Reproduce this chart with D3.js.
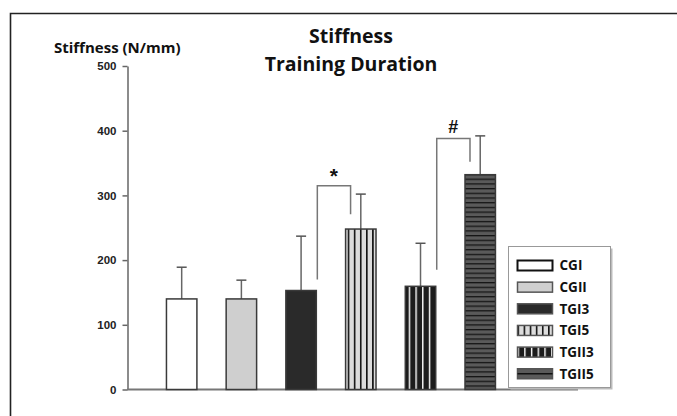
<!DOCTYPE html>
<html>
<head>
<meta charset="utf-8">
<title>Stiffness - Training Duration</title>
<script src="https://d3js.org/d3.v7.min.js"></script>
<style type="text/css">
body { margin: 0; background: #fff; }
svg text { font-family: "Open Sans", sans-serif; fill: #111; }
.tick text { font-family: "Liberation Sans", Arial, sans-serif; font-weight: bold; font-size: 11.5px; fill: #222; }
</style>
</head>
<body>
<script type="text/javascript">
// data
var groups = ["CGI", "CGII", "TGI3", "TGI5", "TGII3", "TGII5"];
var means = [140, 140, 153, 248, 159.5, 332];
var errTop = [189, 169, 237, 302, 226, 392];
var yTicks = [0, 100, 200, 300, 400, 500];
// significance brackets: [left group, right group, left foot, top, right foot, mark]
var sigPairs = [["TGI3", "TGI5", 170, 315, 271, "*"], ["TGII3", "TGII5", 185, 388, 352, "#"]];

var width = 677, height = 416;
var svg = d3.select("body").append("svg")
	.attr("width", width)
	.attr("height", height);

var y = d3.scaleLinear().domain([0, 500]).range([389.5, 66]);
var x = d3.scaleBand().domain(groups).range([136.6, 525.3])
	.paddingInner(0.49).paddingOuter(0.5);

// patterns
var defs = svg.append("defs");
function stripes(id, bg, fg, dir, gap, lw) {
	var p = defs.append("pattern").attr("id", id)
		.attr("patternUnits", "userSpaceOnUse")
		.attr("width", dir == "v" ? gap : 8)
		.attr("height", dir == "v" ? 8 : gap);
	p.append("rect").attr("width", dir == "v" ? gap : 8).attr("height", dir == "v" ? 8 : gap).attr("fill", bg);
	if (dir == "v")
		p.append("rect").attr("x", 0).attr("width", lw).attr("height", 8).attr("fill", fg);
	else
		p.append("rect").attr("y", 0).attr("width", 8).attr("height", lw).attr("fill", fg);
}
stripes("pTGI5", "#dcdcdc", "#111", "v", 6.1, 1.6);
stripes("pTGII3", "#1c1c1c", "#fff", "v", 6.7, 1.4);
stripes("pTGII5", "#5a5a5a", "#151515", "h", 4.7, 1.3);

var fills = {
	CGI: "#fff", CGII: "#cfcfcf", TGI3: "#2a2a2a",
	TGI5: "url(#pTGI5)", TGII3: "url(#pTGII3)", TGII5: "url(#pTGII5)"
};

// frame (top and left only, figure is cropped)
svg.append("path").attr("d", "M10.5,416V13.5H677")
	.attr("fill", "none").attr("stroke", "#222").attr("stroke-width", 1.6);

// titles
svg.append("text").attr("x", 351).attr("y", 43).attr("text-anchor", "middle")
	.style("font-size", "19.5px").style("font-weight", "bold").text("Stiffness");
svg.append("text").attr("x", 351).attr("y", 71).attr("text-anchor", "middle")
	.style("font-size", "19.5px").style("font-weight", "bold").text("Training Duration");
svg.append("text").attr("x", 54).attr("y", 53)
	.style("font-size", "15px").style("font-weight", "bold").text("Stiffness (N/mm)");

// y axis
var yAxis = svg.append("g").attr("transform", "translate(127.5,0)")
	.call(d3.axisLeft(y).tickValues(yTicks).tickSize(5).tickPadding(6).tickSizeOuter(0));
yAxis.selectAll("line, path").attr("stroke", "#666").attr("stroke-width", 1.5);

// baseline
svg.append("line").attr("x1", 127).attr("x2", 578).attr("y1", y(0)).attr("y2", y(0))
	.attr("stroke", "#777").attr("stroke-width", 2);

// error bars
var eb = svg.append("g");
eb.selectAll("line.v").data(groups).join("line").attr("class", "v")
	.attr("x1", function(d) { return x(d) + x.bandwidth() / 2; })
	.attr("x2", function(d) { return x(d) + x.bandwidth() / 2; })
	.attr("y1", function(d, i) { return y(means[i]); })
	.attr("y2", function(d, i) { return y(errTop[i]); })
	.attr("stroke", "#666").attr("stroke-width", 1.5);
eb.selectAll("line.c").data(groups).join("line").attr("class", "c")
	.attr("x1", function(d) { return x(d) + x.bandwidth() / 2 - 5; })
	.attr("x2", function(d) { return x(d) + x.bandwidth() / 2 + 5; })
	.attr("y1", function(d, i) { return y(errTop[i]); })
	.attr("y2", function(d, i) { return y(errTop[i]); })
	.attr("stroke", "#555").attr("stroke-width", 1.5);

// bars
svg.append("g").selectAll("rect").data(groups).join("rect")
	.attr("x", function(d) { return x(d); })
	.attr("y", function(d, i) { return y(means[i]); })
	.attr("width", x.bandwidth())
	.attr("height", function(d, i) { return y(0) - y(means[i]); })
	.attr("fill", function(d) { return fills[d]; })
	.attr("stroke", "#3a3a3a").attr("stroke-width", 1.5);

// significance brackets
var sg = svg.append("g");
sigPairs.forEach(function(s) {
	var xl = x(s[0]) + x.bandwidth() + 1, xr = x(s[1]) + 5;
	sg.append("path")
		.attr("d", "M" + xl + "," + y(s[2]) + "V" + y(s[3]) + "H" + xr + "V" + y(s[4]))
		.attr("fill", "none").attr("stroke", "#777").attr("stroke-width", 1.5);
	sg.append("text").attr("x", (xl + xr) / 2).attr("y", y(s[3]) - (s[5] == "*" ? 3 : 5))
		.attr("text-anchor", "middle")
		.style("font-family", "Liberation Sans, Arial, sans-serif")
		.style("font-size", s[5] == "*" ? "21px" : "18px").style("font-weight", "bold")
		.text(s[5]);
});

// legend
var lg = svg.append("g").attr("transform", "translate(508.5,246.5)");
lg.append("rect").attr("x", 2).attr("y", 2).attr("width", 102).attr("height", 141).attr("fill", "#bbb");
lg.append("rect").attr("width", 102).attr("height", 141)
	.attr("fill", "#fff").attr("stroke", "#999").attr("stroke-width", 1);
var row = lg.selectAll("g.row").data(groups).join("g").attr("class", "row")
	.attr("transform", function(d, i) { return "translate(9," + (14 + i * 21.65) + ")"; });
row.append("rect").attr("width", 35).attr("height", 10)
	.attr("fill", function(d) { return d == "TGII5" ? "#5a5a5a" : fills[d]; })
	.attr("stroke", function(d) { return d == "CGI" ? "#111" : "#555"; })
	.attr("stroke-width", function(d) { return d == "CGI" ? 2 : 1.5; });
row.filter(function(d) { return d == "TGII5"; }).append("line")
	.attr("x1", 0).attr("x2", 35).attr("y1", 5).attr("y2", 5)
	.attr("stroke", "#111").attr("stroke-width", 1.5);
row.append("text").attr("x", 42).attr("y", 5).attr("dy", "0.36em")
	.style("font-size", "13.5px").style("font-weight", "bold").text(function(d) { return d; });
</script>
</body>
</html>
